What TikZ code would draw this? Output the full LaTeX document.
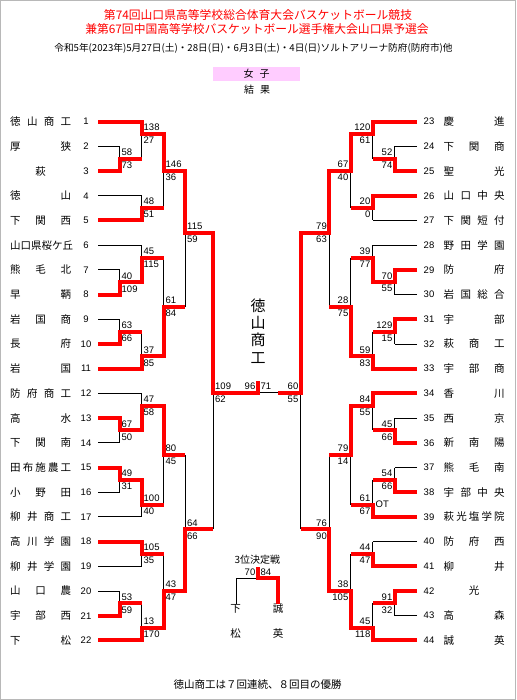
\documentclass[tikz,border=0pt]{standalone}
\usepackage{fontspec}
\setmainfont{Noto Sans CJK JP}
\newfontfamily\numfont{Liberation Sans}
\definecolor{pinkbg}{RGB}{255,204,255}
\definecolor{wred}{RGB}{255,0,0}
\newcommand\distX[1]{\ifx#1\relax\else#1\expandafter\distY\fi}
\newcommand\distY[1]{\ifx#1\relax\else\hfill#1\expandafter\distY\fi}
\newcommand\dist[1]{\makebox[61pt][s]{\distX#1\relax}}
\newcommand\cen[1]{\makebox[61pt][c]{#1}}
\def\leftmatches{119.5/2/4/3/141.5/1/98/58/73,
141.5/0/3/1/163.5/0/98/138/27,
141.5/6/8/7/163.5/1/98/48/51,
163.5/1/7/4/185/0/141.5/146/36,
119.5/12/14/13/141.5/1/98/40/109,
141.5/10/13/11/163.5/1/119.5/45/115,
119.5/16/18/17/141.5/1/98/63/66,
141.5/17/20/19/163.5/1/98/37/85,
163.5/11/19/15/185/1/141.5/61/84,
185/4/15/9/213/0/163.5/115/59,
119.5/24/26/25/141.5/0/98/67/50,
141.5/22/25/23/163.5/1/119.5/47/58,
119.5/28/30/29/141.5/0/98/49/31,
141.5/29/32/31/163.5/0/119.5/100/40,
163.5/23/31/27/185/0/141.5/80/45,
141.5/34/36/35/163.5/0/98/105/35,
119.5/38/40/39/141.5/1/98/53/59,
141.5/39/42/41/163.5/1/98/13/170,
163.5/35/41/38/185/1/141.5/43/47,
185/27/38/33/213/1/163.5/64/66}
\def\rightmatches{394.5/2/4/3/372.5/1/417/52/74,
372.5/0/3/1/350.5/0/417/120/61,
372.5/6/8/7/350.5/0/417/20/0,
350.5/1/7/4/329/0/372.5/67/40,
394.5/12/14/13/372.5/0/417/70/55,
372.5/10/13/11/350.5/1/394.5/39/77,
394.5/16/18/17/372.5/0/417/129/15,
372.5/17/20/19/350.5/1/417/59/83,
350.5/11/19/15/329/1/372.5/28/75,
329/4/15/9/300.5/0/350.5/79/63,
394.5/24/26/25/372.5/1/417/45/66,
372.5/22/25/23/350.5/0/417/84/55,
394.5/28/30/29/372.5/1/417/54/66,
372.5/29/32/31/350.5/1/417/61/67,
350.5/23/31/27/329/0/372.5/79/14,
372.5/34/36/35/350.5/1/417/44/47,
394.5/38/40/39/372.5/0/417/91/32,
372.5/39/42/41/350.5/1/417/45/118,
350.5/35/41/38/329/1/372.5/38/105,
329/27/38/33/300.5/1/350.5/76/90}
\begin{document}
\begin{tikzpicture}[x=1pt,y=-1pt,
  blk/.style={line width=1pt,black},
  win/.style={line width=4pt,wred,line join=miter},
  sc/.style={font=\numfont\fontsize{9.5pt}{10pt}\selectfont,inner sep=0pt},
  tn/.style={font=\fontsize{10.5pt}{12pt}\selectfont,inner sep=0pt,anchor=west},
  tnum/.style={font=\numfont\fontsize{9.5pt}{10pt}\selectfont,inner sep=0pt},
]
\useasboundingbox (0,0) rectangle (516,700);
\fill[white] (0,0) rectangle (516,700);
\draw[black!28,line width=1pt] (0.5,0.5) rectangle (515.5,699.5);

% header
\node[font=\fontsize{11.8pt}{13pt}\selectfont,text=wred,inner sep=0pt] (t1) at (258,15) {第74回山口県高等学校総合体育大会バスケットボール競技};
\node[font=\fontsize{11.8pt}{13pt}\selectfont,text=wred,inner sep=0pt] (t2) at (257,29.3) {兼第67回中国高等学校バスケットボール選手権大会山口県予選会};
\node[font=\fontsize{9.65pt}{12pt}\selectfont,inner sep=0pt] (t3) at (253.5,48.3) {令和5年(2023年)5月27日(土)・28日(日)・6月3日(土)・4日(日)ソルトアリーナ防府(防府市)他};
\node[fill=pinkbg,minimum width=87pt,minimum height=14pt,inner sep=0pt,font=\fontsize{10pt}{12pt}\selectfont] (joshi) at (256.7,74) {\makebox[26pt][s]{女\hfill 子}};
\node[font=\fontsize{10pt}{12pt}\selectfont,inner sep=0pt] (kekka) at (257,89.3) {\makebox[26pt][s]{結\hfill 果}};

% black verticals
\foreach \xv/\rt/\rb/\re/\xn/\w/\xw/\st/\sb in \leftmatches {
  \draw[blk] (\xv,{121.7+12.35*\rt}) -- (\xv,{121.7+12.35*\rb});
}
\foreach \xv/\rt/\rb/\re/\xn/\w/\xw/\st/\sb in \rightmatches {
  \draw[blk] (\xv,{121.7+12.35*\rt}) -- (\xv,{121.7+12.35*\rb});
}
% losing team lines
\foreach \r/\x in {2/119.5,6/141.5,10/141.5,12/119.5,16/119.5,22/141.5,26/119.5,30/119.5,32/141.5,36/141.5,38/119.5}
  \draw[blk] (98,{121.7+12.35*\r}) -- (\x,{121.7+12.35*\r});
\foreach \r/\x in {2/394.5,8/372.5,10/372.5,14/394.5,18/394.5,24/394.5,28/394.5,34/372.5,40/394.5}
  \draw[blk] (417,{121.7+12.35*\r}) -- (\x,{121.7+12.35*\r});
% semifinals and final (black parts)
\draw[blk] (213,232.85) -- (213,529.25);
\draw[blk] (300.5,232.85) -- (300.5,529.25);
\draw[blk] (213,392.5) -- (300.5,392.5);
% third place black
\coordinate (tpL) at (236,578.3);
\coordinate (tpM) at (257.5,578.3);
\coordinate (tpLd) at (236,604);
\draw[blk] (tpLd) -- (tpL) -- (tpM);

% red winning paths and scores
\foreach \xv/\rt/\rb/\re/\xn/\w/\xw/\st/\sb in \leftmatches {
  \pgfmathsetmacro\yt{121.7+12.35*\rt}
  \pgfmathsetmacro\yb{121.7+12.35*\rb}
  \pgfmathsetmacro\ye{121.7+12.35*\re}
  \pgfmathsetmacro\yw{\w==0 ? \yt : \yb}
  \draw[win] (\xw,\yw) -- (\xv,\yw) -- (\xv,\ye) -- (\xn,\ye);
  \node[sc,anchor=west] at (\xv+2,\ye-6.5) {\st};
  \node[sc,anchor=west] at (\xv+2,\ye+6.5) {\sb};
}
\foreach \xv/\rt/\rb/\re/\xn/\w/\xw/\st/\sb in \rightmatches {
  \pgfmathsetmacro\yt{121.7+12.35*\rt}
  \pgfmathsetmacro\yb{121.7+12.35*\rb}
  \pgfmathsetmacro\ye{121.7+12.35*\re}
  \pgfmathsetmacro\yw{\w==0 ? \yt : \yb}
  \draw[win] (\xw,\yw) -- (\xv,\yw) -- (\xv,\ye) -- (\xn,\ye);
  \node[sc,anchor=east] at (\xv-2,\ye-6.5) {\st};
  \node[sc,anchor=east] at (\xv-2,\ye+6.5) {\sb};
}
\node[sc,anchor=west] (ot) at (375.5,504.6) {OT};
\draw[win] (185,232.85) -- (213,232.85) -- (213,392.5) -- (258,392.5) -- (258,381);
\draw[win] (329,232.85) -- (300.5,232.85) -- (300.5,392.5) -- (278,392.5);
\node[sc,anchor=west] (f1) at (215,386) {109};
\node[sc,anchor=west] (f2) at (215,399) {62};
\node[sc,anchor=east] (f3) at (255.5,386) {96};
\node[sc,anchor=west] (f4) at (260.5,386) {71};
\node[sc,anchor=east] (f5) at (298.5,386) {60};
\node[sc,anchor=east] (f6) at (298.5,399) {55};

% champion
\node[font=\fontsize{15pt}{17.3pt}\selectfont,align=center,inner sep=0pt] (champ) at (258,331) {徳\\山\\商\\工};

% third place
\node[font=\fontsize{10pt}{12pt}\selectfont,inner sep=0pt] (tpt) at (257.3,560) {3位決定戦};
\node[sc,anchor=east] (tp1) at (255.5,572.3) {70};
\node[sc,anchor=west] (tp2) at (260.5,572.3) {84};
\draw[win] (257.5,567.3) -- (257.5,578.3) -- (278.3,578.3) -- (278.3,603.5);
\node[tn,anchor=center] (k1) at (235.5,609) {下};
\node[tn,anchor=center] (k2) at (235.5,634) {松};
\node[tn,anchor=center] (s1) at (278,609) {誠};
\node[tn,anchor=center] (s2) at (278,634) {英};

% team names left
\foreach \i/\n in {1/{\dist{徳山商工}},2/{\dist{厚狭}},3/{\cen{萩}},4/{\dist{徳山}},5/{\dist{下関西}},6/{\dist{山口県桜ケ丘}},7/{\dist{熊毛北}},8/{\dist{早鞆}},9/{\dist{岩国商}},10/{\dist{長府}},11/{\dist{岩国}},12/{\dist{防府商工}},13/{\dist{高水}},14/{\dist{下関南}},15/{\dist{田布施農工}},16/{\dist{小野田}},17/{\dist{柳井商工}},18/{\dist{高川学園}},19/{\dist{柳井学園}},20/{\dist{山口農}},21/{\dist{宇部西}},22/{\dist{下松}}} {
  \pgfmathsetmacro\yy{121.7+24.7*(\i-1)}
  \node[tn] (nl\i) at (10,\yy) {\n};
  \node[tnum] (il\i) at (86,\yy) {\i};
}
% team names right
\foreach \i/\n in {23/{\dist{慶進}},24/{\dist{下関商}},25/{\dist{聖光}},26/{\dist{山口中央}},27/{\dist{下関短付}},28/{\dist{野田学園}},29/{\dist{防府}},30/{\dist{岩国総合}},31/{\dist{宇部}},32/{\dist{萩商工}},33/{\dist{宇部商}},34/{\dist{香川}},35/{\dist{西京}},36/{\dist{新南陽}},37/{\dist{熊毛南}},38/{\dist{宇部中央}},39/{\dist{萩光塩学院}},40/{\dist{防府西}},41/{\dist{柳井}},42/{\cen{光}},43/{\dist{高森}},44/{\dist{誠英}}} {
  \pgfmathsetmacro\yy{121.7+24.7*(\i-23)}
  \node[tn] (nr\i) at (443.5,\yy) {\n};
  \node[tnum] (ir\i) at (429,\yy) {\i};
}

% footer
\node[font=\fontsize{10.5pt}{12pt}\selectfont,inner sep=0pt] (foot) at (257.5,685) {徳山商工は７回連続、８回目の優勝};
\end{tikzpicture}
\end{document}
